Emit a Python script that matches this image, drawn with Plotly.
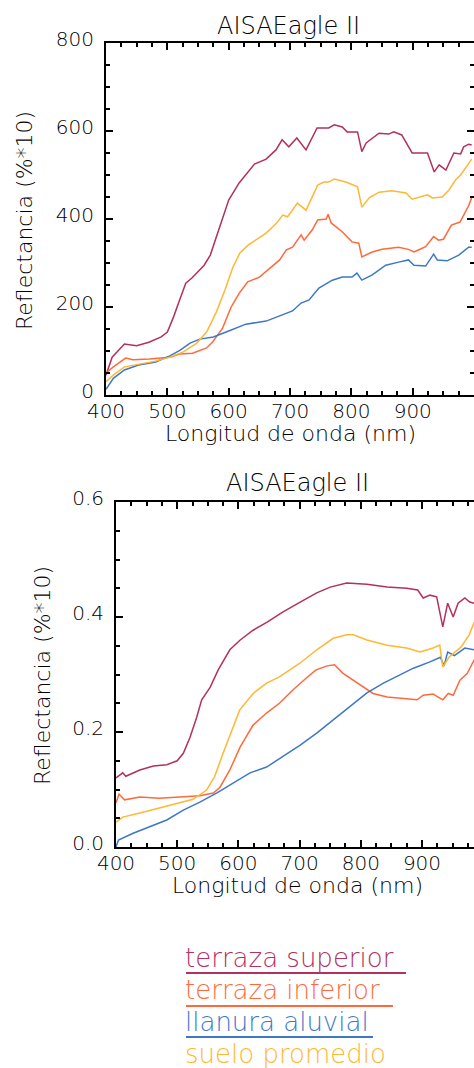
import plotly.graph_objects as go

W, H = 474, 1068

# ---------------- DATA ----------------
series_names = ["terraza superior", "terraza inferior", "llanura aluvial", "suelo promedio"]
series_colors = ["#b3305f", "#ff6a3d", "#3d78c8", "#ffb734"]

x_ticks = [400, 500, 600, 700, 800, 900, 1000]
x_tick_text = ["400", "500", "600", "700", "800", "900", ""]
y1_ticks = [0, 200, 400, 600, 800]
y2_ticks = [0.0, 0.2, 0.4, 0.6]
y2_tick_text = ["0.0", "0.2", "0.4", "0.6"]

# top panel (Reflectancia, %*10)
ts_top_wl = [400, 410, 430, 450, 470, 490, 500, 510, 520, 530, 540, 550, 560, 570, 580, 590, 600, 617, 642, 661,
             677, 687, 698, 711, 726, 744, 763, 772, 785, 793, 810, 817, 824, 845, 861, 869, 882, 899, 916, 924,
             935, 943, 954, 967, 978, 983, 991, 996]
ts_top_val = [45, 86, 116, 112, 120, 132, 143, 177, 216, 254, 266, 280, 295, 318, 359, 398, 443, 482, 525, 536,
              557, 580, 564, 584, 557, 607, 607, 614, 609, 598, 598, 553, 573, 595, 593, 598, 591, 550, 550, 550,
              507, 523, 511, 550, 548, 564, 570, 568]

ti_top_wl = [400, 412, 432, 444, 471, 504, 520, 541, 564, 574, 590, 604, 617, 631, 650, 666, 683, 694, 704, 718,
             723, 736, 745, 759, 762, 767, 785, 801, 812, 817, 834, 850, 877, 893, 902, 910, 921, 934, 942, 950,
             963, 977, 985, 991, 996]
ti_top_val = [50, 64, 84, 80, 82, 86, 93, 95, 107, 121, 152, 200, 231, 257, 268, 288, 307, 330, 336, 364,
              352, 375, 398, 400, 411, 391, 371, 348, 345, 314, 325, 331, 336, 331, 325, 330, 337, 360, 352, 354,
              386, 393, 415, 430, 448]

la_top_wl = [400, 412, 430, 453, 481, 504, 521, 537, 553, 575, 601, 628, 661, 688, 704, 718, 731, 747, 769, 785,
             801, 809, 817, 834, 856, 877, 893, 902, 921, 934, 940, 956, 975, 991, 996]
la_top_val = [13, 38, 57, 68, 75, 89, 102, 118, 127, 132, 146, 161, 168, 182, 191, 209, 216, 243, 261, 268,
              268, 277, 261, 273, 295, 302, 307, 295, 293, 320, 307, 305, 318, 336, 336]

sp_top_wl = [400, 412, 430, 453, 481, 504, 526, 548, 564, 580, 594, 607, 618, 632, 648, 661, 677, 688, 696, 712,
             726, 734, 745, 755, 763, 772, 791, 810, 815, 817, 829, 845, 866, 889, 899, 910, 924, 932, 948, 959,
             970, 978, 986, 996]
sp_top_val = [30, 45, 64, 70, 77, 86, 98, 118, 143, 189, 239, 291, 322, 341, 356, 368, 389, 409, 405, 436,
              420, 443, 477, 484, 484, 491, 484, 473, 443, 427, 448, 461, 464, 459, 445, 450, 455, 448, 450, 466,
              489, 500, 516, 536]

# bottom panel (Reflectancia, 0-1)
ts_bot_wl = [400, 411, 416, 439, 461, 483, 500, 510, 521, 532, 540, 554, 567, 586, 603, 624, 647, 673, 701, 728,
             750, 777, 810, 843, 875, 893, 902, 913, 924, 932, 934, 942, 951, 959, 970, 978, 985, 995]
ts_bot_val = [0.120, 0.129, 0.123, 0.134, 0.141, 0.143, 0.150, 0.163, 0.191, 0.226, 0.256, 0.278, 0.308, 0.343,
              0.360, 0.377, 0.391, 0.409, 0.426, 0.442, 0.452, 0.459, 0.457, 0.452, 0.450, 0.447, 0.433, 0.438,
              0.435, 0.398, 0.383, 0.424, 0.400, 0.424, 0.433, 0.426, 0.424, 0.425]

ti_bot_wl = [400, 405, 414, 439, 471, 504, 537, 559, 570, 586, 603, 624, 646, 667, 689, 711, 727, 745, 757, 771,
             799, 820, 843, 864, 892, 902, 918, 934, 943, 951, 962, 974, 985, 995]
ti_bot_val = [0.077, 0.092, 0.082, 0.087, 0.085, 0.087, 0.089, 0.094, 0.104, 0.134, 0.174, 0.212, 0.233, 0.250,
              0.273, 0.294, 0.308, 0.315, 0.317, 0.302, 0.282, 0.267, 0.261, 0.259, 0.256, 0.264, 0.266, 0.256,
              0.267, 0.264, 0.290, 0.302, 0.325, 0.335]

la_bot_wl = [400, 404, 428, 455, 483, 510, 537, 565, 592, 619, 646, 673, 701, 728, 755, 782, 810, 837, 864, 886,
             913, 930, 936, 942, 953, 970, 985, 995]
la_bot_val = [0.000, 0.012, 0.024, 0.035, 0.047, 0.064, 0.078, 0.094, 0.111, 0.129, 0.139, 0.157, 0.177, 0.198,
              0.221, 0.243, 0.268, 0.285, 0.299, 0.311, 0.322, 0.330, 0.315, 0.339, 0.333, 0.346, 0.343, 0.345]

sp_bot_wl = [400, 411, 439, 471, 504, 526, 548, 561, 575, 591, 602, 624, 646, 667, 683, 701, 728, 755, 777, 788,
             810, 843, 875, 897, 918, 929, 934, 944, 964, 977, 985, 995]
sp_bot_val = [0.043, 0.052, 0.059, 0.068, 0.077, 0.083, 0.099, 0.122, 0.163, 0.209, 0.238, 0.267, 0.285, 0.296,
              0.308, 0.320, 0.343, 0.363, 0.369, 0.369, 0.360, 0.351, 0.346, 0.339, 0.346, 0.351, 0.313, 0.330,
              0.348, 0.369, 0.390, 0.400]

title_text = "AISAEagle II"
x_title = "Longitud de onda (nm)"
y_title = "Reflectancia (%*10)"

# ---------------- FIGURE ----------------
FONT = "DejaVu Sans"
fig = go.Figure()

top_series = [(ts_top_wl, ts_top_val), (ti_top_wl, ti_top_val), (la_top_wl, la_top_val), (sp_top_wl, sp_top_val)]
bot_series = [(ts_bot_wl, ts_bot_val), (ti_bot_wl, ti_bot_val), (la_bot_wl, la_bot_val), (sp_bot_wl, sp_bot_val)]

for (wl, v), name, c in zip(top_series, series_names, series_colors):
    fig.add_trace(go.Scatter(x=wl, y=v, mode="lines", name=name, line=dict(color=c, width=1.5),
                             xaxis="x", yaxis="y", showlegend=False))
for (wl, v), name, c in zip(bot_series, series_names, series_colors):
    fig.add_trace(go.Scatter(x=wl, y=v, mode="lines", name=name, line=dict(color=c, width=1.5),
                             xaxis="x2", yaxis="y2", showlegend=False))


def px_x(p):
    return p / W


def px_y(p):
    return 1 - p / H


tickfont = dict(family=FONT, size=20, color="black", weight=200)
common_x = dict(ticks="inside", ticklen=7, tickwidth=1.5, tickcolor="black", showline=True, linecolor="black",
                linewidth=1.5, showgrid=False, zeroline=False, tickvals=x_ticks, ticktext=x_tick_text,
                tickfont=tickfont, mirror="allticks", ticklabelstandoff=-3, automargin=False,
                minor=dict(dtick=25, tick0=400, ticks="inside", ticklen=4, tickcolor="black", tickwidth=1.5))

fig.update_layout(
    template="none",
    width=W, height=H, margin=dict(l=0, r=0, t=0, b=0, pad=0), autosize=False,
    paper_bgcolor="white", plot_bgcolor="white", showlegend=False,
    xaxis=dict(domain=[px_x(106), px_x(473.5)], range=[400, 999], anchor="y", **common_x),
    yaxis=dict(domain=[px_y(395), px_y(43)], range=[0, 800], anchor="x", ticks="inside", ticklen=7,
               tickwidth=1.5, tickcolor="black", showline=True, linecolor="black", linewidth=2,
               showgrid=False, zeroline=False, tickvals=y1_ticks, tickfont=tickfont, mirror="allticks",
               ticklabelstandoff=6, ticklabelshift=-4, automargin=False,
               minor=dict(dtick=50, tick0=0, ticks="inside", ticklen=4, tickcolor="black", tickwidth=1.5)),
    xaxis2=dict(domain=[px_x(116), 1.0], range=[400, 985], anchor="y2", **common_x),
    yaxis2=dict(domain=[px_y(847), px_y(502)], range=[0, 0.6], anchor="x2", ticks="inside", ticklen=7,
                tickwidth=1.5, tickcolor="black", showline=True, linecolor="black", linewidth=2,
                showgrid=False, zeroline=False, tickvals=y2_ticks, ticktext=y2_tick_text, tickfont=tickfont,
                ticklabelstandoff=6, ticklabelshift=-4, automargin=False,
                minor=dict(dtick=0.05, tick0=0, ticks="inside", ticklen=4, tickcolor="black", tickwidth=1.5)),
)

labfont = dict(family=FONT, size=22, color="black", weight=200)
ann = [
    dict(text=title_text, x=px_x(288), y=px_y(26), font=dict(family=FONT, size=24, color="black", weight=200)),
    dict(text=title_text, x=px_x(297), y=px_y(483), font=dict(family=FONT, size=24, color="black", weight=200)),
    dict(text=x_title, x=px_x(290), y=px_y(433), font=labfont),
    dict(text=x_title, x=px_x(297), y=px_y(885), font=labfont),
    dict(text=y_title, x=px_x(24), y=px_y(221), textangle=-90, font=labfont),
    dict(text=y_title, x=px_x(42), y=px_y(676), textangle=-90, font=labfont),
]
for a in ann:
    fig.add_annotation(xref="paper", yref="paper", showarrow=False, xanchor="center", yanchor="middle", **a)

# legend (text with underline samples)
leg_y = [958, 990, 1022, 1054]
leg_line_y = [973, 1006, 1037, 1070]
leg_line_end = [406, 393, 373, 380]
for name, c, ty, ly, le in zip(series_names, series_colors, leg_y, leg_line_y, leg_line_end):
    fig.add_annotation(xref="paper", yref="paper", showarrow=False, xanchor="left", yanchor="middle",
                       x=px_x(183), y=px_y(ty), text=name, font=dict(family=FONT, size=26, color=c, weight=200))
    fig.add_shape(type="line", xref="paper", yref="paper", x0=px_x(186), x1=px_x(le), y0=px_y(ly), y1=px_y(ly),
                  line=dict(color=c, width=2))

fig.write_html("out.html", config={"displayModeBar": False},
               post_script="document.body.style.margin='0px';document.body.style.overflow='hidden';")
